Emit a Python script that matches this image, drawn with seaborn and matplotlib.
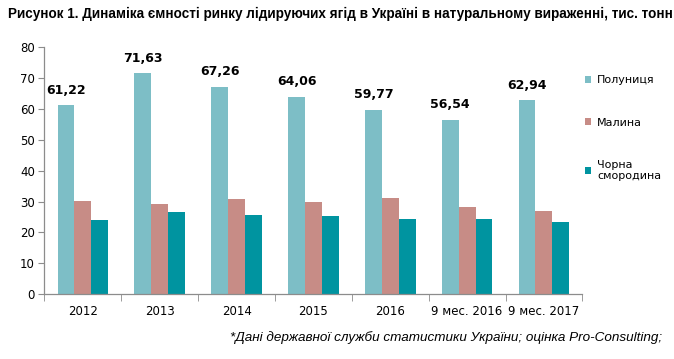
import pandas as pd
import seaborn as sns
import matplotlib.pyplot as plt
from matplotlib.ticker import FixedLocator

periods = ["2012", "2013", "2014", "2015", "2016", "9 мес. 2016", "9 мес. 2017"]
polunytsia = [61.22, 71.63, 67.26, 64.06, 59.77, 56.54, 62.94]
malyna = [30.2, 29.2, 30.9, 29.9, 31.2, 28.3, 27.0]
smorodyna = [24.1, 26.6, 25.7, 25.3, 24.4, 24.4, 23.4]
series = ["Полуниця", "Малина", "Чорна\nсмородина"]
colors = ["#7DBEC6", "#C78C86", "#0094A0"]

df = pd.DataFrame({
    "period": periods * 3,
    "value": polunytsia + malyna + smorodyna,
    "berry": [s for s in series for _ in periods],
})

sns.set_style("white")
plt.rcParams["font.family"] = ["DejaVu Sans"]
plt.rcParams["text.color"] = "black"
plt.rcParams["xtick.labelcolor"] = "black"
plt.rcParams["ytick.labelcolor"] = "black"

fig = plt.figure(figsize=(6.74, 3.59), dpi=100)
ax = fig.add_axes([0.066, 0.181, 0.798, 0.687])

sns.barplot(data=df, x="period", y="value", hue="berry", palette=colors,
            width=0.66, saturation=1, linewidth=0, ax=ax, legend=True)

ax.set_xlim(-0.5, len(periods) - 0.5)
ax.set_ylim(0, 80)
ax.set_yticks(range(0, 81, 10))
ax.set_xlabel("")
ax.set_ylabel("")

for s in ["top", "right"]:
    ax.spines[s].set_visible(False)
for s in ["left", "bottom"]:
    ax.spines[s].set_color("#8c8c8c")
    ax.spines[s].set_linewidth(0.9)

ax.tick_params(axis="y", left=True, length=4, color="#8c8c8c", labelsize=8.5, pad=3)
ax.tick_params(axis="x", which="major", length=0, labelsize=8.5, pad=8)
ax.xaxis.set_minor_locator(FixedLocator([i - 0.5 for i in range(len(periods) + 1)]))
ax.tick_params(axis="x", which="minor", bottom=True, length=5, color="#8c8c8c")

# labels over the strawberry bars
for i, v in enumerate(polunytsia):
    ax.text(i - 0.22, v + 2.7, f"{v:.2f}".replace(".", ","), ha="center", va="bottom",
            fontsize=9, fontweight="bold")

handles, labels = ax.get_legend_handles_labels()
ax.get_legend().remove()
fig.legend(handles, labels, loc="upper left", bbox_to_anchor=(0.868, 0.79),
           frameon=False, fontsize=8, handlelength=0.55, handleheight=0.55,
           handletextpad=0.55, labelspacing=2.9, borderpad=0, borderaxespad=0)

fig.text(0.012, 0.962, "Рисунок 1. Динаміка ємності ринку лідируючих ягід в Україні в натуральному вираженні, тис. тонн",
         ha="left", va="center", fontsize=9.75, fontweight="bold",
         family=["Liberation Sans"])
fig.text(0.983, 0.061, "*Дані державної служби статистики України; оцінка Pro-Consulting;",
         ha="right", va="center", fontsize=9.7, style="italic", family=["Liberation Sans"])

fig.savefig("out.png", dpi=100)
